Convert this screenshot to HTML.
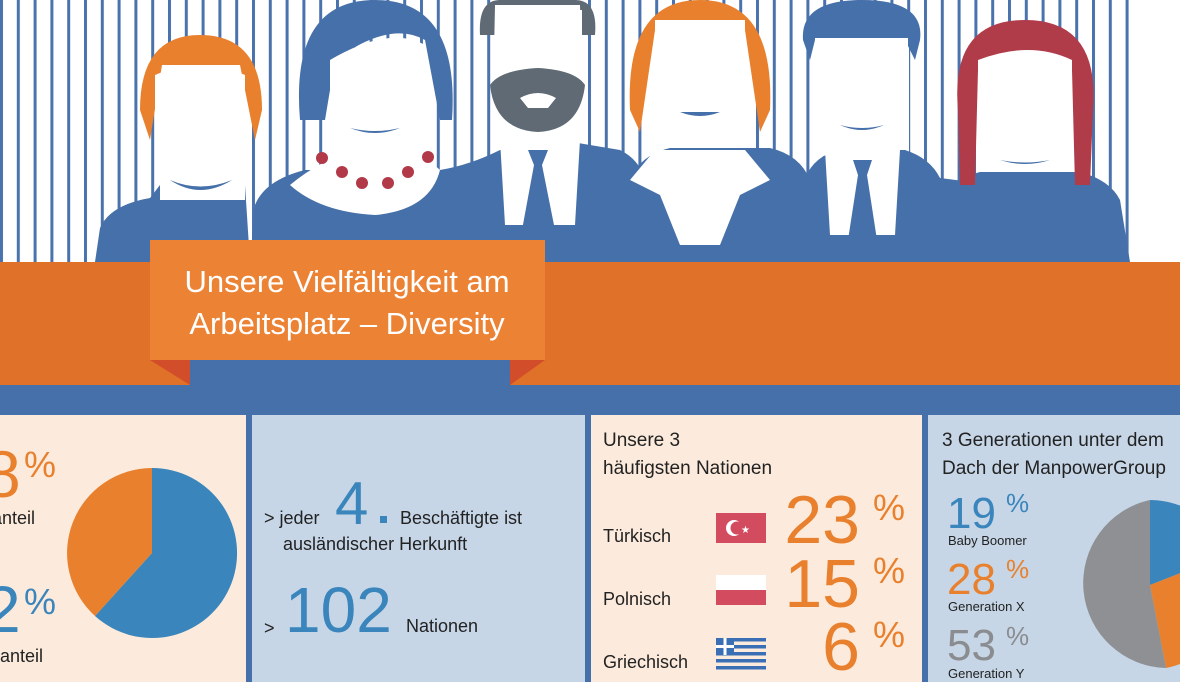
<!DOCTYPE html>
<html><head><meta charset="utf-8"><style>
body{margin:0;width:1180px;height:682px;overflow:hidden;background:#fff;font-family:"Liberation Sans",sans-serif}
svg{display:block}
</style></head><body>
<svg width="1180" height="682" viewBox="0 0 1180 682" xmlns="http://www.w3.org/2000/svg" font-family="Liberation Sans, sans-serif">
<defs>
<pattern id="st" x="0" y="0" width="16.8" height="10" patternUnits="userSpaceOnUse">
<rect x="0" y="0" width="3" height="10" fill="#4a72ac"/>
</pattern>
</defs>
<rect width="1180" height="262" fill="#fff"/>
<rect width="1135" height="262" fill="url(#st)"/>
<!-- white face/neck backdrops -->
<g fill="#fff">
<rect x="155" y="65" width="90" height="135"/>
<rect x="328" y="55" width="98" height="120"/>
<rect x="494" y="5" width="89" height="145"/>
<rect x="654" y="20" width="92" height="135"/>
<rect x="814" y="36" width="95" height="120"/>
<rect x="976" y="58" width="98" height="125"/>
</g>
<!-- bodies -->
<g fill="#4670a9">
<path d="M95 262 L100 228 Q110 205 150 198 L160 185 L245 185 L250 262Z"/>
<path d="M250 262 L255 205 Q265 180 305 170 L440 170 Q470 165 500 150 L560 140 L620 150 Q640 160 645 180 L650 262Z"/>
<path d="M620 262 L630 180 Q640 155 670 148 L770 148 Q800 155 810 180 L820 262Z"/>
<path d="M795 262 L805 178 Q815 155 840 150 L905 150 Q930 158 940 178 L995 185 Q1005 200 1010 262Z"/>
<path d="M930 262 L940 200 Q955 178 980 172 L1080 172 Q1110 180 1120 200 L1130 262Z"/>
</g>
<!-- person1 -->
<path d="M140 110 Q140 35 200 35 Q262 35 262 110 L255 140 L240 65 L162 65 L150 140Z" fill="#e8802e"/>
<path d="M155 75 Q200 55 245 75 L245 160 Q235 195 200 198 Q165 195 155 160Z" fill="#fff"/>
<rect x="160" y="180" width="85" height="20" fill="#fff"/>
<path d="M170 180 Q200 200 232 180 Q200 193 170 180Z" fill="#4670a9"/>
<!-- person2 -->
<path d="M300 120 Q290 0 375 0 Q460 0 452 120 L440 120 L425 40 Q390 20 335 60 L325 120Z" fill="#4670a9"/>
<path d="M330 60 Q390 25 425 45 L425 110 Q410 140 375 142 Q345 140 330 110Z" fill="#fff"/>
<path d="M290 185 Q320 160 355 150 L400 150 Q430 160 440 170 Q430 210 375 215 Q320 212 290 185Z" fill="#fff"/>
<path d="M350 128 Q375 138 400 128 Q375 134 350 128Z" fill="#4670a9"/>
<g fill="#b23a48"><circle cx="322" cy="158" r="6"/><circle cx="342" cy="172" r="6"/><circle cx="362" cy="183" r="6"/><circle cx="388" cy="183" r="6"/><circle cx="408" cy="172" r="6"/><circle cx="428" cy="157" r="6"/></g>
<!-- person3 -->
<path d="M480 35 Q478 0 500 0 L575 0 Q598 0 595 35 L582 35 L582 10 L495 10 L495 35Z" fill="#5f6a75"/>
<path d="M495 5 L580 5 L582 100 Q570 140 538 142 Q505 140 493 100Z" fill="#fff"/>
<path d="M490 85 Q495 130 538 132 Q580 130 585 85 Q575 70 538 68 Q500 70 490 85Z M520 98 Q538 88 556 98 L548 108 L528 108Z" fill="#5f6a75"/>
<path d="M500 140 L580 140 L575 225 L505 225Z" fill="#fff"/>
<path d="M528 150 L548 150 L542 165 L555 230 L538 245 L522 230 L534 165Z" fill="#4670a9"/>
<!-- person4 -->
<path d="M630 110 Q625 0 700 0 Q775 0 770 110 L760 132 L745 30 L655 30 L640 132Z" fill="#e8802e"/>
<path d="M655 20 L745 20 L745 100 Q735 122 700 124 Q665 122 655 100Z" fill="#fff"/>
<path d="M680 112 Q700 120 720 112Z" fill="#4670a9"/>
<path d="M655 150 L745 150 L770 180 L740 195 L720 245 L680 245 L660 195 L630 180Z" fill="#fff"/>
<!-- person5 -->
<path d="M803 40 Q800 0 862 0 Q925 0 920 40 L915 60 L905 40 L815 40 L810 60Z" fill="#4670a9"/>
<path d="M815 38 L908 38 L908 105 Q900 140 862 143 Q825 140 815 105Z" fill="#fff"/>
<path d="M840 125 Q862 135 884 125 Q862 131 840 125Z" fill="#4670a9"/>
<path d="M825 150 L900 150 L895 235 L830 235Z" fill="#fff"/>
<path d="M853 160 L872 160 L867 175 L877 240 L862 250 L848 240 L858 175Z" fill="#4670a9"/>
<!-- person6 -->
<path d="M958 110 Q950 20 1025 20 Q1100 20 1093 110 L1090 185 L1075 185 L1072 70 L978 70 L975 185 L960 185Z" fill="#b03b49"/>
<path d="M978 60 Q1030 40 1072 60 L1072 130 Q1060 170 1025 172 Q990 170 978 130Z" fill="#fff"/>
<path d="M1000 160 Q1025 168 1050 160 Q1025 165 1000 160Z" fill="#4670a9"/>
<!-- bands -->
<rect x="0" y="262" width="1180" height="123" fill="#e07128"/>
<rect x="0" y="385" width="1180" height="30" fill="#4670a9"/>
<rect x="190" y="360" width="320" height="25" fill="#4670a9"/>
<path d="M150 360 L190 360 L190 385Z" fill="#d24d2a"/>
<path d="M545 360 L510 360 L510 385Z" fill="#d24d2a"/>
<rect x="150" y="240" width="395" height="120" fill="#ec8234"/>
<text x="347" y="292" fill="#fff" font-size="31" text-anchor="middle">Unsere Vielfältigkeit am</text>
<text x="347" y="334" fill="#fff" font-size="31" text-anchor="middle">Arbeitsplatz – Diversity</text>
<!-- panels -->
<rect x="0" y="415" width="1180" height="267" fill="#4670a9"/>
<rect x="0" y="415" width="246" height="267" fill="#fcebdc"/>
<rect x="252" y="415" width="333" height="267" fill="#c6d6e7"/>
<rect x="591" y="415" width="331" height="267" fill="#fcebdc"/>
<rect x="928" y="415" width="252" height="267" fill="#c6d6e7"/>
<!-- panel1 -->
<text x="-16" y="497" fill="#e8802e" font-size="66">8</text>
<text x="24" y="477" fill="#e8802e" font-size="36">%</text>
<text x="-8" y="524" fill="#222" font-size="18">anteil</text>
<text x="-16" y="632" fill="#3a85bb" font-size="66">2</text>
<text x="24" y="614" fill="#3a85bb" font-size="36">%</text>
<text x="-6" y="662" fill="#222" font-size="18">ranteil</text>
<path d="M152 553 L152 468 A85 85 0 1 1 95 616 Z" fill="#3a85bb"/>
<path d="M152 553 L95 616 A85 85 0 0 1 152 468 Z" fill="#e8802e"/>
<!-- panel2 -->
<text x="264" y="524" fill="#222" font-size="18">&gt; jeder</text>
<text x="335" y="524" fill="#3a85bb" font-size="60">4</text>
<rect x="380" y="516" width="7" height="7" fill="#3a85bb"/>
<text x="400" y="524" fill="#222" font-size="18">Beschäftigte ist</text>
<text x="283" y="550" fill="#222" font-size="18">ausländischer Herkunft</text>
<text x="264" y="634" fill="#222" font-size="18">&gt;</text>
<text x="285" y="632" fill="#3a85bb" font-size="64">102</text>
<text x="406" y="632" fill="#222" font-size="18">Nationen</text>
<!-- panel3 -->
<text x="603" y="446" fill="#222" font-size="19">Unsere 3</text>
<text x="603" y="474" fill="#222" font-size="19">häufigsten Nationen</text>
<text x="603" y="542" fill="#222" font-size="18">Türkisch</text>
<text x="603" y="605" fill="#222" font-size="18">Polnisch</text>
<text x="603" y="668" fill="#222" font-size="18">Griechisch</text>
<rect x="716" y="513" width="50" height="30" fill="#d24b5f"/>
<circle cx="734" cy="528" r="8" fill="#fff"/><circle cx="737" cy="528" r="6.5" fill="#d24b5f"/>
<text x="741" y="533" fill="#fff" font-size="10">★</text>
<rect x="716" y="575" width="50" height="15" fill="#fff"/>
<rect x="716" y="590" width="50" height="15" fill="#d24b5f"/>
<g fill="#3a6fb5"><rect x="716" y="638" width="50" height="3.5"/><rect x="716" y="645" width="50" height="3.5"/><rect x="716" y="652" width="50" height="3.5"/><rect x="716" y="659" width="50" height="3.5"/><rect x="716" y="666" width="50" height="3.5"/><rect x="716" y="638" width="18" height="17"/></g>
<rect x="716" y="645" width="18" height="3" fill="#fff"/><rect x="723.5" y="638" width="3" height="17" fill="#fff"/>
<text x="860" y="543" fill="#e8802e" font-size="68" text-anchor="end">23</text>
<text x="873" y="520" fill="#e8802e" font-size="36">%</text>
<text x="860" y="607" fill="#e8802e" font-size="68" text-anchor="end">15</text>
<text x="873" y="583" fill="#e8802e" font-size="36">%</text>
<text x="860" y="670" fill="#e8802e" font-size="68" text-anchor="end">6</text>
<text x="873" y="647" fill="#e8802e" font-size="36">%</text>
<!-- panel4 -->
<text x="942" y="446" fill="#222" font-size="19">3 Generationen unter dem</text>
<text x="942" y="474" fill="#222" font-size="19">Dach der ManpowerGroup</text>
<text x="947" y="528" fill="#3a85bb" font-size="44">19</text>
<text x="1006" y="512" fill="#3a85bb" font-size="26">%</text>
<text x="948" y="545" fill="#222" font-size="13">Baby Boomer</text>
<text x="947" y="594" fill="#e8802e" font-size="44">28</text>
<text x="1006" y="578" fill="#e8802e" font-size="26">%</text>
<text x="948" y="611" fill="#222" font-size="13">Generation X</text>
<text x="947" y="660" fill="#8a8c8f" font-size="44">53</text>
<text x="1006" y="645" fill="#8a8c8f" font-size="26">%</text>
<text x="948" y="678" fill="#222" font-size="13">Generation Y</text>
<path d="M1150 585 L1150 500 A85 85 0 0 1 1229 554 Z" fill="#3a85bb"/>
<path d="M1150 585 L1229 554 A85 85 0 0 1 1166 668 Z" fill="#e8802e"/>
<path d="M1150 585 L1166 668 A85 85 0 0 1 1150 500 Z" fill="#8e9093"/>
</svg>
</body></html>
